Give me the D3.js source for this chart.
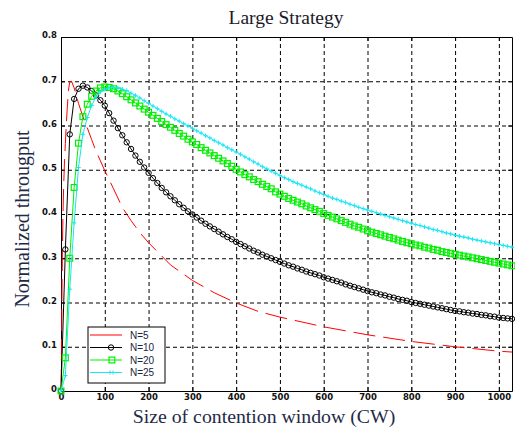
<!DOCTYPE html>
<html>
<head>
    <meta charset="utf-8" />
    <title>Large Strategy</title>
    <script src="https://d3js.org/d3.v7.min.js" charset="utf-8"></script>
    <style>
        body { margin: 0; background: #fff; }
        .grid line { stroke: #000; stroke-dasharray: 4,3; }
        .grid .domain { display: none; }
        .axis text { font-family: "DejaVu Sans", sans-serif; font-size: 8.5px; font-weight: bold; fill: #111; }
        .axis .domain, .axis line { stroke: #000; }
    </style>
</head>
<body>
<svg id="chart" width="515" height="429"></svg>
<script>
    // tick labels
    var xTicks = [0, 100, 200, 300, 400, 500, 600, 700, 800, 900, 1000];
    var yTicks = [0, 0.1, 0.2, 0.3, 0.4, 0.5, 0.6, 0.7, 0.8];

    // series names
    var seriesNames = ["N=5", "N=10", "N=20", "N=25"];

    // N=5 (red, no markers) - own sample positions
    var cwN5 = [0, 1, 2, 3, 4, 5, 6, 8, 10, 12, 14, 17, 20, 24, 30, 40, 50, 60, 70, 80, 90, 100,
        120, 140, 160, 180, 200, 250, 300, 350, 400, 450, 500, 600, 700, 800, 900, 1000, 1030];
    var valN5 = [0, 0.08, 0.2, 0.3, 0.37, 0.42, 0.46, 0.52, 0.56, 0.6, 0.635, 0.68, 0.698, 0.70, 0.685,
        0.65, 0.62, 0.595, 0.568, 0.542, 0.52, 0.498, 0.457, 0.415, 0.385, 0.358, 0.335, 0.285, 0.25,
        0.222, 0.199, 0.18, 0.167, 0.145, 0.127, 0.112, 0.1, 0.09, 0.088];

    // marker series, sampled every 10 CW (0 .. 1030)
    var cwGrid = d3.range(0, 1040, 10);

    var valN10 = [
        0, 0.32, 0.58, 0.66, 0.683, 0.69, 0.686, 0.678, 0.668, 0.657,
        0.645, 0.628, 0.611, 0.594, 0.578, 0.562, 0.547, 0.532, 0.518, 0.505,
        0.493, 0.481, 0.47, 0.459, 0.449, 0.44, 0.431, 0.422, 0.414, 0.406,
        0.399, 0.392, 0.385, 0.378, 0.372, 0.366, 0.36, 0.354, 0.348, 0.343,
        0.337, 0.332, 0.327, 0.322, 0.317, 0.313, 0.308, 0.304, 0.3, 0.296,
        0.292, 0.288, 0.284, 0.281, 0.277, 0.274, 0.27, 0.267, 0.264, 0.261,
        0.257, 0.254, 0.251, 0.248, 0.245, 0.241, 0.238, 0.235, 0.232, 0.229,
        0.226, 0.223, 0.221, 0.218, 0.216, 0.213, 0.211, 0.208, 0.206, 0.204,
        0.201, 0.199, 0.197, 0.195, 0.193, 0.191, 0.189, 0.187, 0.185, 0.183,
        0.181, 0.18, 0.178, 0.177, 0.175, 0.174, 0.172, 0.171, 0.169, 0.168,
        0.166, 0.165, 0.164, 0.163];

    var valN20 = [
        0, 0.075, 0.3, 0.46, 0.56, 0.62, 0.648, 0.666, 0.678, 0.685,
        0.687, 0.686, 0.683, 0.678, 0.672, 0.665, 0.658, 0.651, 0.644, 0.637,
        0.63, 0.623, 0.616, 0.609, 0.602, 0.596, 0.589, 0.582, 0.576, 0.569,
        0.563, 0.557, 0.55, 0.544, 0.538, 0.532, 0.526, 0.52, 0.514, 0.508,
        0.501, 0.495, 0.489, 0.484, 0.478, 0.473, 0.467, 0.462, 0.457, 0.45,
        0.445, 0.44, 0.435, 0.431, 0.427, 0.423, 0.418, 0.414, 0.41, 0.406,
        0.401, 0.397, 0.393, 0.389, 0.385, 0.381, 0.377, 0.373, 0.37, 0.366,
        0.362, 0.359, 0.356, 0.353, 0.35, 0.347, 0.344, 0.341, 0.338, 0.335,
        0.333, 0.33, 0.328, 0.325, 0.323, 0.32, 0.318, 0.315, 0.313, 0.311,
        0.309, 0.307, 0.305, 0.303, 0.301, 0.299, 0.297, 0.295, 0.293, 0.291,
        0.289, 0.287, 0.285, 0.283];

    var valN25 = [
        0, 0.035, 0.23, 0.38, 0.505, 0.58, 0.618, 0.645, 0.665, 0.676,
        0.682, 0.685, 0.686, 0.685, 0.682, 0.679, 0.673, 0.668, 0.662, 0.656,
        0.65, 0.644, 0.638, 0.632, 0.626, 0.621, 0.615, 0.61, 0.604, 0.599,
        0.594, 0.588, 0.583, 0.577, 0.572, 0.566, 0.561, 0.556, 0.55, 0.545,
        0.54, 0.535, 0.529, 0.524, 0.518, 0.513, 0.507, 0.502, 0.497, 0.492,
        0.487, 0.482, 0.478, 0.473, 0.469, 0.465, 0.461, 0.457, 0.452, 0.448,
        0.444, 0.44, 0.436, 0.433, 0.429, 0.426, 0.422, 0.419, 0.415, 0.412,
        0.409, 0.406, 0.403, 0.4, 0.397, 0.394, 0.391, 0.388, 0.385, 0.382,
        0.379, 0.376, 0.374, 0.371, 0.368, 0.365, 0.363, 0.36, 0.357, 0.355,
        0.352, 0.35, 0.348, 0.346, 0.343, 0.341, 0.339, 0.337, 0.335, 0.333,
        0.331, 0.329, 0.327, 0.325];

    var colors = ["#ff0000", "#000000", "#00f000", "#19e6f5"];

    var svg = d3.select("#chart"),
        margin = { top: 37, right: 3, bottom: 38, left: 61 },
        width = +svg.attr("width") - margin.left - margin.right,
        height = +svg.attr("height") - margin.top - margin.bottom;

    var x = d3.scaleLinear().domain([0, 1030]).range([0, width]);
    var y = d3.scaleLinear().domain([0, 0.8]).range([height, 0]);

    var g = svg.append("g")
        .attr("transform", "translate(" + margin.left + "," + margin.top + ")");

    // grid (dashed)
    g.append("g")
        .attr("class", "grid")
        .attr("transform", "translate(0," + height + ")")
        .call(d3.axisBottom(x).tickValues(xTicks.slice(1)).tickSize(-height).tickFormat(""));
    g.append("g")
        .attr("class", "grid")
        .call(d3.axisLeft(y).tickValues(yTicks.slice(1, -1)).tickSize(-width).tickFormat(""));

    // frame + inward ticks
    g.append("g")
        .attr("class", "axis")
        .attr("transform", "translate(0," + height + ")")
        .call(d3.axisBottom(x).tickValues(xTicks).tickSizeInner(-4).tickSizeOuter(0).tickPadding(3)
            .tickFormat(d3.format("d")));
    g.append("g")
        .attr("class", "axis")
        .call(d3.axisLeft(y).tickValues(yTicks).tickSizeInner(-4).tickSizeOuter(0).tickPadding(4)
            .tickFormat(function (d) { return d === 0 ? "0" : d.toFixed(1); }))
        .selectAll("text").attr("dy", "0.1em");
    g.append("g")
        .attr("class", "axis")
        .call(d3.axisTop(x).tickValues(xTicks).tickSizeInner(-4).tickSizeOuter(0).tickFormat(""));
    g.append("g")
        .attr("class", "axis")
        .attr("transform", "translate(" + width + ",0)")
        .call(d3.axisRight(y).tickValues(yTicks).tickSizeInner(-4).tickSizeOuter(0).tickFormat(""));

    var line = d3.line()
        .x(function (d) { return x(d[0]); })
        .y(function (d) { return y(d[1]); });

    // N=5
    g.append("path")
        .datum(d3.zip(cwN5, valN5))
        .attr("fill", "none")
        .attr("stroke", colors[0])
        .attr("stroke-width", 1)
        .attr("stroke-dasharray", "22,8")
        .attr("d", line);

    // N=10 circles
    var d10 = d3.zip(cwGrid, valN10);
    g.append("path").datum(d10)
        .attr("fill", "none").attr("stroke", colors[1]).attr("stroke-width", 1)
        .attr("d", line);
    g.append("g").selectAll("circle").data(d10).enter().append("circle")
        .attr("cx", function (d) { return x(d[0]); })
        .attr("cy", function (d) { return y(d[1]); })
        .attr("r", 2.7)
        .attr("fill", "none").attr("stroke", colors[1]).attr("stroke-width", 1);

    // N=20 squares
    var d20 = d3.zip(cwGrid, valN20);
    g.append("path").datum(d20)
        .attr("fill", "none").attr("stroke", colors[2]).attr("stroke-width", 1)
        .attr("d", line);
    g.append("g").selectAll("rect").data(d20).enter().append("rect")
        .attr("x", function (d) { return x(d[0]) - 2.9; })
        .attr("y", function (d) { return y(d[1]) - 2.9; })
        .attr("width", 5.8).attr("height", 5.8)
        .attr("fill", "none").attr("stroke", colors[2]).attr("stroke-width", 1.2);

    // N=25 plus
    var d25 = d3.zip(cwGrid, valN25);
    g.append("path").datum(d25)
        .attr("fill", "none").attr("stroke", colors[3]).attr("stroke-width", 1)
        .attr("d", line);
    g.append("g").selectAll("path").data(d25).enter().append("path")
        .attr("transform", function (d) { return "translate(" + x(d[0]) + "," + y(d[1]) + ")"; })
        .attr("d", "M-2.2,0H2.2M0,-2.2V2.2")
        .attr("stroke", colors[3]).attr("stroke-width", 1);

    // legend
    var legend = g.append("g").attr("transform", "translate(27,290)");
    legend.append("rect")
        .attr("width", 77).attr("height", 56)
        .attr("fill", "#fff").attr("stroke", "#000").attr("stroke-width", 1);
    seriesNames.forEach(function (name, i) {
        var ly = 8 + i * 12.5;
        var item = legend.append("g").attr("transform", "translate(0," + ly + ")");
        item.append("line").attr("x1", 2).attr("x2", 34).attr("y1", 0).attr("y2", 0)
            .attr("stroke", colors[i]).attr("stroke-width", 1);
        if (i === 1) {
            item.append("circle").attr("cx", 23).attr("cy", 0).attr("r", 2.7)
                .attr("fill", "none").attr("stroke", colors[i]);
        } else if (i === 2) {
            item.append("rect").attr("x", 21).attr("y", -2.9).attr("width", 5.8).attr("height", 5.8)
                .attr("fill", "none").attr("stroke", colors[i]).attr("stroke-width", 1.2);
        } else if (i === 3) {
            [22, 25].forEach(function (px) {
                item.append("path").attr("transform", "translate(" + px + ",0)")
                    .attr("d", "M-2,0H2M0,-2V2").attr("stroke", colors[i]);
            });
        }
        item.append("text").attr("x", 42).attr("y", 0).attr("dy", "0.35em")
            .style("font-family", "'Liberation Sans', Arial, sans-serif")
            .style("font-size", "10px").style("fill", "#1a2440")
            .text(name);
    });

    // title and axis labels
    svg.append("text")
        .attr("x", 286).attr("y", 24)
        .attr("text-anchor", "middle")
        .style("font-family", "'Liberation Serif', 'Times New Roman', serif")
        .style("font-size", "19.5px").style("fill", "#1a1a2a")
        .text("Large Strategy");
    svg.append("text")
        .attr("x", 264).attr("y", 423)
        .attr("text-anchor", "middle")
        .style("font-family", "'Liberation Serif', 'Times New Roman', serif")
        .style("font-size", "19.8px").style("fill", "#1f2a48")
        .text("Size of contention window (CW)");
    svg.append("text")
        .attr("transform", "translate(29,219) rotate(-90)")
        .attr("text-anchor", "middle")
        .style("font-family", "'Liberation Serif', 'Times New Roman', serif")
        .style("font-size", "20px").style("fill", "#1f2a48")
        .text("Normalized througput");
</script>
</body>
</html>
